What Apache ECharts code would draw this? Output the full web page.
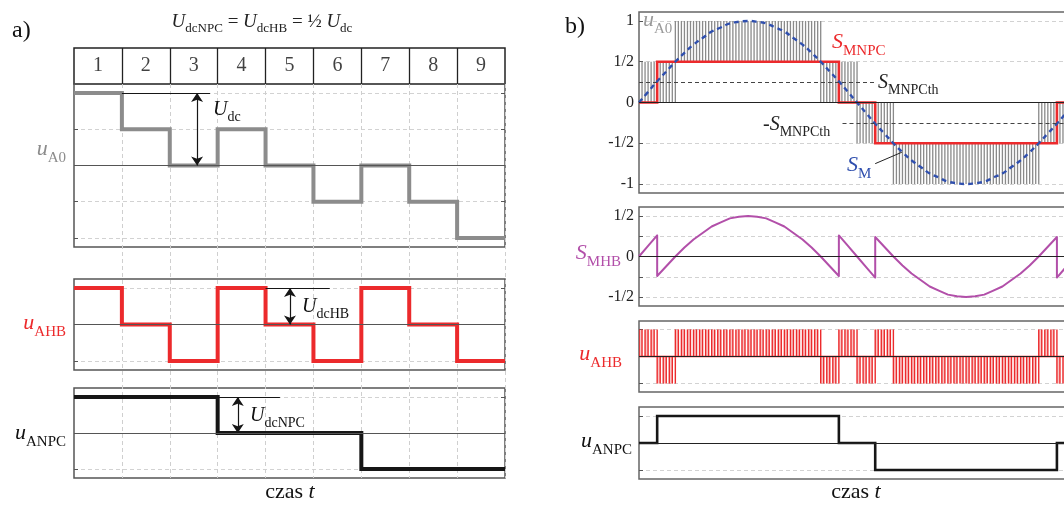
<!DOCTYPE html>
<html>
<head>
<meta charset="utf-8">
<script src="https://cdn.jsdelivr.net/npm/echarts@6/dist/echarts.min.js"></script>
<style>
  html, body { margin: 0; background: #fff; }
  #chart { width: 1064px; height: 506px; }
</style>
</head>
<body>
<div id="chart"></div>
<script>
// a) 9 time slots, levels in units of U_dc/2
var slotLabels = ['1', '2', '3', '4', '5', '6', '7', '8', '9'];
var uA0Steps   = [2, 1, 0, 1, 0, -1, 0, -1, -2];
var uAHBSteps  = [1, 0, -1, 1, 0, -1, 1, 0, -1];
var uANPCSteps = [1, 1, 1, 0, 0, 0, -1, -1, -1];

// b) one period of S_M, read every 7.5 deg
var angleStep = 7.5;
var smValues = [0, 0.13, 0.26, 0.38, 0.5, 0.61, 0.71, 0.79, 0.87, 0.92, 0.97, 0.99, 1,
  0.99, 0.97, 0.92, 0.87, 0.79, 0.71, 0.61, 0.5, 0.38, 0.26, 0.13, 0,
  -0.13, -0.26, -0.38, -0.5, -0.61, -0.71, -0.79, -0.87, -0.92, -0.97, -0.99, -1,
  -0.99, -0.97, -0.92, -0.87, -0.79, -0.71, -0.61, -0.5, -0.38, -0.26, -0.13, 0];
var switchAngles = [15, 165, 195, 345];        // |S_M| crosses S_MNPCth
var smnpcLevels  = [0, 0.5, 0, -0.5, 0];
var anpcLevels   = [0, 1, 0, -1, 0];
var thLevel = 0.25;
// PWM bands [from deg, to deg, low, high]
var uA0Bands = [[0, 30, 0, 0.5], [30, 150, 0.5, 1], [150, 180, 0, 0.5],
  [180, 210, -0.5, 0], [210, 330, -1, -0.5], [330, 360, -0.5, 0]];
var uAHBBands = [[0, 15, 0, 1], [15, 30, -1, 0], [30, 150, 0, 1], [150, 165, -1, 0],
  [165, 180, 0, 1], [180, 195, -1, 0], [195, 210, 0, 1], [210, 330, -1, 0],
  [330, 345, 0, 1], [345, 360, -1, 0]];
var pwmStepDeg = 2.5;

var p1Ticks = [-1, -0.5, 0, 0.5, 1];
var p1TickLabels = ['-1', '-1/2', '0', '1/2', '1'];
var p2Ticks = [-0.5, -0.25, 0, 0.25, 0.5];
var p2LabelTicks = [-0.5, 0, 0.5];
var p2TickLabels = ['-1/2', '0', '1/2'];

var serif = '"Liberation Serif", "DejaVu Serif", serif';
var RED = '#ec2a2c', GREY = '#8c8c8c', BLUE = '#2f4fae', PURPLE = '#b24fa9', BLACK = '#161616';
var X_END = 352.5;   // right panels are cut at the page edge

function stepData(levels) {
  var d = levels.map(function (v, i) { return [i, v]; });
  d.push([levels.length, levels[levels.length - 1]]);
  return d;
}
function switchData(levels) {
  var d = [[0, levels[0]]];
  switchAngles.forEach(function (a, i) { d.push([a, levels[i + 1]]); });
  d.push([360, levels[levels.length - 1]]);
  return d;
}
var smData = smValues.map(function (v, i) { return [i * angleStep, v]; });
// S_MHB = S_M - S_MNPC, with a vertical jump at every switch
var smhbData = [];
var k = 0;
smValues.forEach(function (v, i) {
  var a = i * angleStep;
  if (k < switchAngles.length && a === switchAngles[k]) {
    smhbData.push([a, v - smnpcLevels[k]]);
    k++;
  }
  smhbData.push([a, v - smnpcLevels[k]]);
});

function grid(left, top, width, height, border) {
  return { left: left, top: top, width: width, height: height, outerBoundsMode: 'none',
    show: !!border, borderColor: border || '#555', borderWidth: 1.5, backgroundColor: 'transparent' };
}
function xAx(g, max, split) {
  return { type: 'value', gridIndex: g, min: 0, max: max, interval: 1,
    axisLine: { show: false }, axisTick: { show: false }, axisLabel: { show: false },
    splitLine: split ? Object.assign({ show: true, showMinLine: false }, split) : { show: false } };
}
function yAx(g, lim, ticks, pos, labelTicks, labels) {
  return { type: 'value', gridIndex: g, min: -lim, max: lim, position: pos || 'left',
    axisLine: { show: false },
    axisTick: { show: !!ticks, inside: true, length: 4, customValues: ticks, lineStyle: { color: '#555' } },
    axisLabel: labels ? { show: true, customValues: labelTicks, margin: 5, fontSize: 16,
      fontFamily: serif, color: '#222',
      formatter: function (v) { return labels[labelTicks.indexOf(v)]; } } : { show: false },
    splitLine: { show: !!ticks && pos !== 'right', lineStyle: { color: '#d2d2d2', type: [4, 3] } } };
}
function zeroLine(color, extra) {
  return { silent: true, symbol: 'none', label: { show: false },
    lineStyle: { color: color, width: 1, type: 'solid' },
    data: [{ yAxis: 0 }].concat(extra || []) };
}
function helper(x0, x1, y) {
  var ls = { color: BLACK, width: 1, type: 'solid' };
  return [{ coord: [x0, y], lineStyle: ls }, { coord: [x1, y], lineStyle: ls }];
}
function arrow(xi, yi, x, y0, y1) {
  return { type: 'lines', coordinateSystem: 'cartesian2d', xAxisIndex: xi, yAxisIndex: yi,
    symbol: ['arrow', 'arrow'], symbolSize: 9, silent: true, z: 5,
    lineStyle: { color: BLACK, width: 1.2, opacity: 1 },
    data: [{ coords: [[x, y0], [x, y1]] }] };
}
function pwm(color, width, fill, withBase) {
  return function (params, api) {
    var x0 = api.value(0), x1 = api.value(1), lo = api.value(2), hi = api.value(3);
    var kids = [];
    var n = 0;
    for (var x = x0; x <= x1 + 1e-6; x += pwmStepDeg, n++) {
      var a = api.coord([x, lo]), b = api.coord([x, hi]);
      if (fill && n % 2 === 0 && x + pwmStepDeg <= x1 + 1e-6) {
        var c = api.coord([x + pwmStepDeg, hi]);
        kids.push({ type: 'rect', shape: { x: a[0], y: Math.min(a[1], b[1]), width: c[0] - a[0], height: Math.abs(a[1] - b[1]) },
          style: { fill: fill } });
      }
      kids.push({ type: 'line', shape: { x1: a[0], y1: a[1], x2: b[0], y2: b[1] },
        style: { stroke: color, lineWidth: width } });
    }
    if (withBase) {
      var p = api.coord([x0, 0]), q = api.coord([x1, 0]);
      kids.push({ type: 'line', shape: { x1: p[0], y1: p[1], x2: q[0], y2: q[1] },
        style: { stroke: color, lineWidth: 1.6 } });
    }
    return { type: 'group', children: kids };
  };
}

function richSet(big, small) {
  var pad = Math.round(big * 0.22);
  return {
    m: { fontSize: big, fontStyle: 'italic', fontFamily: serif, verticalAlign: 'bottom', padding: [0, 0, pad, 0] },
    n: { fontSize: big, fontFamily: serif, verticalAlign: 'bottom', padding: [0, 0, pad, 0] },
    s: { fontSize: small, fontFamily: serif, verticalAlign: 'bottom' }
  };
}
function txt(x, y, text, color, align, big, small) {
  return { type: 'text', x: x, y: y, z: 100, silent: true,
    style: { text: text, rich: richSet(big, small || big), fill: color, align: align,
      verticalAlign: 'middle', font: big + 'px ' + serif } };
}

var chart = echarts.init(document.getElementById('chart'));
chart.setOption({
  animation: false,
  backgroundColor: '#fff',
  grid: [
    grid(74, 48, 431, 36, '#222'),
    grid(74, 84, 431, 394),
    grid(74, 84, 431, 163, '#555'),
    grid(74, 279, 431, 91, '#555'),
    grid(74, 388, 431, 90, '#555'),
    grid(639, 12, 427, 181, '#666'),
    grid(639, 207, 427, 99, '#666'),
    grid(639, 321, 427, 71, '#666'),
    grid(639, 407, 427, 72, '#666')
  ],
  xAxis: [
    xAx(0, 9, { showMaxLine: false, lineStyle: { color: '#222', width: 1.3, type: 'solid' } }),
    xAx(1, 9, { lineStyle: { color: '#cfcfcf', type: [4, 3] } }),
    xAx(2, 9), xAx(3, 9), xAx(4, 9),
    xAx(5, X_END), xAx(6, X_END), xAx(7, X_END), xAx(8, X_END)
  ],
  yAxis: [
    yAx(0, 1), yAx(1, 1),
    yAx(2, 2.25, [-2, -1, 0, 1, 2]), yAx(2, 2.25, [-2, -1, 0, 1, 2], 'right'),
    yAx(3, 1.25, [-1, 0, 1]), yAx(3, 1.25, [-1, 0, 1], 'right'),
    yAx(4, 1.25, [-1, 0, 1]), yAx(4, 1.25, [-1, 0, 1], 'right'),
    yAx(5, 1.11, p1Ticks, 'left', p1Ticks, p1TickLabels),
    yAx(6, 0.61, p2Ticks, 'left', p2LabelTicks, p2TickLabels),
    yAx(7, 1.31, [-1, 0, 1]),
    yAx(8, 1.33, [-1, 0, 1])
  ],
  series: [
    { type: 'scatter', xAxisIndex: 0, yAxisIndex: 0, symbolSize: 0, silent: true,
      data: slotLabels.map(function (s, i) { return [i + 0.5, 0, s]; }),
      label: { show: true, position: 'inside', fontSize: 20, fontFamily: serif, color: '#111',
        formatter: function (p) { return p.data[2]; } } },
    { type: 'line', xAxisIndex: 2, yAxisIndex: 2, step: 'end', symbol: 'none', data: stepData(uA0Steps),
      lineStyle: { color: GREY, width: 4, join: 'miter' }, markLine: zeroLine('#555', [helper(1, 2.84, 2)]) },
    { type: 'line', xAxisIndex: 3, yAxisIndex: 4, step: 'end', symbol: 'none', data: stepData(uAHBSteps),
      lineStyle: { color: RED, width: 4, join: 'miter' }, markLine: zeroLine('#555', [helper(4, 5.34, 1)]) },
    { type: 'line', xAxisIndex: 4, yAxisIndex: 6, step: 'end', symbol: 'none', data: stepData(uANPCSteps),
      lineStyle: { color: BLACK, width: 4, join: 'miter' }, markLine: zeroLine('#555', [helper(3, 4.3, 1)]) },
    arrow(2, 2, 2.57, 2, 0),
    arrow(3, 4, 4.51, 1, 0),
    arrow(4, 6, 3.42, 1, 0),

    { type: 'custom', xAxisIndex: 5, yAxisIndex: 8, clip: true, silent: true,
      encode: { x: [0, 1], y: [2, 3] }, data: uA0Bands, renderItem: pwm('#8a8a8a', 1.3, null, false) },
    { type: 'line', xAxisIndex: 5, yAxisIndex: 8, step: 'end', symbol: 'none', data: switchData(smnpcLevels),
      lineStyle: { color: RED, width: 2.6, join: 'miter' }, z: 3,
      markLine: zeroLine('#222', [
        [{ coord: [0, thLevel], lineStyle: { color: '#444', width: 1.2, type: [4, 3] } },
         { coord: [196, thLevel], lineStyle: { color: '#444', width: 1.2, type: [4, 3] } }],
        [{ coord: [168, -thLevel], lineStyle: { color: '#444', width: 1.2, type: [4, 3] } },
         { coord: [X_END, -thLevel], lineStyle: { color: '#444', width: 1.2, type: [4, 3] } }]
      ]) },
    { type: 'line', xAxisIndex: 5, yAxisIndex: 8, smooth: true, symbol: 'none', data: smData, z: 4,
      lineStyle: { color: BLUE, width: 2.4, type: [5, 4] },
      markLine: { silent: true, symbol: 'none', label: { show: false },
        data: [[{ coord: [195, -0.75], lineStyle: { color: '#222', width: 1, type: 'solid' } },
                { coord: [217, -0.61], lineStyle: { color: '#222', width: 1, type: 'solid' } }]] } },
    { type: 'line', xAxisIndex: 6, yAxisIndex: 9, symbol: 'none', data: smhbData,
      lineStyle: { color: PURPLE, width: 2, join: 'round' }, markLine: zeroLine('#222') },
    { type: 'custom', xAxisIndex: 7, yAxisIndex: 10, clip: true, silent: true,
      encode: { x: [0, 1], y: [2, 3] }, data: uAHBBands,
      renderItem: pwm(RED, 1.4, 'rgba(236,42,44,0.28)', true),
      markLine: zeroLine('#222') },
    { type: 'line', xAxisIndex: 8, yAxisIndex: 11, step: 'end', symbol: 'none', data: switchData(anpcLevels),
      lineStyle: { color: BLACK, width: 2.6, join: 'miter' }, markLine: zeroLine('#222') }
  ],
  graphic: [
    txt(12, 31, 'a)', '#111', 'left', 24),
    txt(262, 24, '{m|U}{s|dcNPC}{n| = }{m|U}{s|dcHB}{n| = ½ }{m|U}{s|dc}', '#222', 'center', 19, 13),
    txt(66, 152, '{m|u}{s|A0}', GREY, 'right', 22, 15),
    txt(66, 326, '{m|u}{s|AHB}', RED, 'right', 22, 15),
    txt(66, 436, '{m|u}{s|ANPC}', '#111', 'right', 22, 15),
    txt(290, 495, '{n|czas }{m|t}', '#111', 'center', 22, 15),
    txt(213, 112, '{m|U}{s|dc}', '#111', 'left', 20, 14),
    txt(302, 309, '{m|U}{s|dcHB}', '#111', 'left', 20, 14),
    txt(250, 418, '{m|U}{s|dcNPC}', '#111', 'left', 20, 14),
    txt(565, 27, 'b)', '#111', 'left', 24),
    txt(621, 256, '{m|S}{s|MHB}', PURPLE, 'right', 22, 15),
    txt(622, 357, '{m|u}{s|AHB}', RED, 'right', 22, 15),
    txt(632, 444, '{m|u}{s|ANPC}', '#111', 'right', 22, 15),
    txt(856, 495, '{n|czas }{m|t}', '#111', 'center', 22, 15),
    txt(643, 23, '{m|u}{s|A0}', '#9a9a9a', 'left', 22, 15),
    txt(832, 45, '{m|S}{s|MNPC}', RED, 'left', 22, 15),
    txt(878, 85, '{m|S}{s|MNPCth}', '#222', 'left', 20, 14),
    txt(763, 127, '{n|-}{m|S}{s|MNPCth}', '#222', 'left', 20, 14),
    txt(847, 168, '{m|S}{s|M}', BLUE, 'left', 22, 15)
  ]
});
</script>
</body>
</html>
